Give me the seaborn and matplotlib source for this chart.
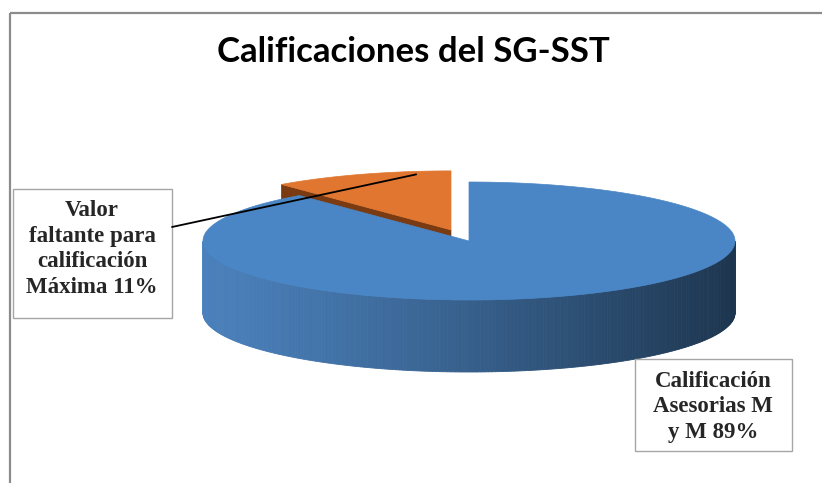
import numpy as np
import matplotlib.pyplot as plt
import matplotlib.patches as mpatches
from matplotlib.colors import to_rgb
import seaborn as sns

# Data
title = 'Calificaciones del SG-SST'
slice_names = ['Calificación Asesorias M y M', 'Valor faltante para calificación Máxima']
values = [89, 11]
label_texts = ['Calificación\nAsesorias M\ny M 89%', 'Valor\nfaltante para\ncalificación\nMáxima 11%']
top_colors = ['#4a86c5', '#e0762f']
side_light = ['#4a80bb', '#7a3a12']
side_dark = ['#1d354e', '#5a2a0c']
explode = [0.0, 0.2]

sns.set_theme(style='white')
plt.rcParams['font.family'] = ['DejaVu Sans']

fig = plt.figure(figsize=(8.22, 4.83), dpi=100)
ax = fig.add_axes([0, 0, 1, 1])
ax.set_xlim(0, 822)
ax.set_ylim(483, 0)
ax.axis('off')

# chart frame (only left and top are visible in the crop)
ax.add_patch(mpatches.Rectangle((10, 13), 830, 490, fill=False, edgecolor='#8c8c8c', lw=1.6))

ax.text(413, 52, title, ha='center', va='center', fontsize=25, fontweight='bold',
        family=['Lato', 'DejaVu Sans'], color='black')

# 3D pie geometry (screen space)
cx, cy, a, b, depth = 469, 241, 266, 59, 72

fracs = np.array(values) / sum(values)
cum = np.concatenate([[0], np.cumsum(fracs)])
t_start = 90 - 360 * cum[:-1]
t_end = 90 - 360 * cum[1:]


def pt(theta, r, off, dz=0):
    th = np.radians(theta)
    return (cx + off[0] + r * a * np.cos(th), cy + off[1] - r * b * np.sin(th) + dz)


def shade(c1, c2, t):
    c1, c2 = np.array(to_rgb(c1)), np.array(to_rgb(c2))
    return tuple(c1 + (c2 - c1) * t)


mids = (t_start + t_end) / 2
order = np.argsort(-np.sin(np.radians(mids)))  # back slices first
offsets = {}
for i in range(len(values)):
    m = np.radians(mids[i])
    offsets[i] = (explode[i] * a * np.cos(m), -explode[i] * b * np.sin(m))

for i in order:
    t0, t1, off = t_start[i], t_end[i], offsets[i]
    # radial walls facing the viewer
    for edge, normal in [(t0, t0 + 90), (t1, t1 - 90)]:
        if np.sin(np.radians(normal)) < -0.05:
            poly = [pt(edge, 0, off), pt(edge, 1, off), pt(edge, 1, off, depth), pt(edge, 0, off, depth)]
            ax.add_patch(mpatches.Polygon(poly, closed=True, facecolor=side_light[i],
                                          edgecolor=side_light[i], lw=0.5))
    # outer wall, front part only
    angles = np.linspace(t0, t1, 400)
    for k in range(len(angles) - 1):
        th = (angles[k] + angles[k + 1]) / 2
        if np.sin(np.radians(th)) >= 0:
            continue
        t = ((np.cos(np.radians(th)) + 1) / 2) ** 1.2
        col = shade(side_light[i], side_dark[i], t)
        poly = [pt(angles[k], 1, off), pt(angles[k + 1], 1, off),
                pt(angles[k + 1], 1, off, depth), pt(angles[k], 1, off, depth)]
        ax.add_patch(mpatches.Polygon(poly, closed=True, facecolor=col, edgecolor=col, lw=0.6))
    # top face
    arc = [pt(t, 1, off) for t in np.linspace(t0, t1, 300)]
    poly = [pt(0, 0, off)] + arc
    ax.add_patch(mpatches.Polygon(poly, closed=True, facecolor=top_colors[i],
                                  edgecolor=top_colors[i], lw=0.5))

# data label boxes
serif = ['Liberation Serif', 'DejaVu Serif']
ax.add_patch(mpatches.Rectangle((13, 189), 159, 129, facecolor='white', edgecolor='#a6a6a6', lw=1.0))
ax.text(92, 249, label_texts[1], ha='center', va='center', fontsize=16.5, fontweight='bold',
        family=serif, linespacing=1.28)
ax.add_patch(mpatches.Rectangle((635, 359), 157, 92, facecolor='white', edgecolor='#a6a6a6', lw=1.0))
ax.text(713, 407, label_texts[0], ha='center', va='center', fontsize=16.5, fontweight='bold',
        family=serif, linespacing=1.28)

# leader line to the small slice
t_lead = t_start[1] + 0.8 * (t_end[1] - t_start[1])
lx, ly = pt(t_lead, 0.95, offsets[1])
ax.plot([172, lx], [227, ly], color='black', lw=1.3)

fig.savefig('out.png', dpi=100)
